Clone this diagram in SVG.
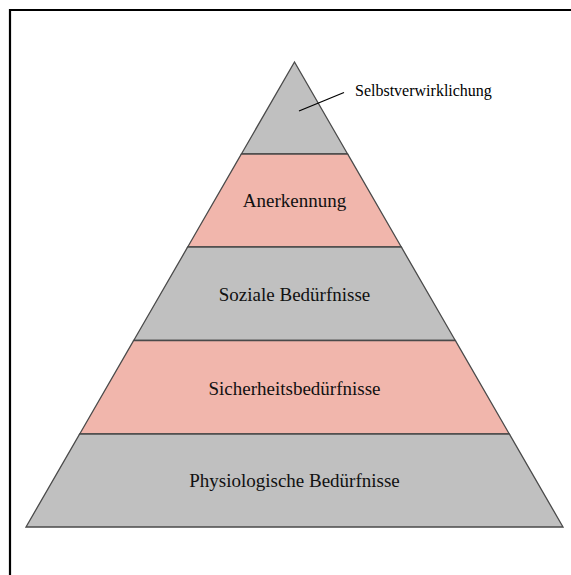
<svg xmlns="http://www.w3.org/2000/svg" width="571" height="575" viewBox="0 0 571 575">
<style>
.g{fill:#C0C0C0;stroke:#4a4a4a;stroke-width:1.3;stroke-linejoin:miter}
.p{fill:#F1B6AC;stroke:#4a4a4a;stroke-width:1.3;stroke-linejoin:miter}
.t{font-family:"Liberation Serif","Times New Roman",serif;font-size:19px;fill:#111;text-anchor:middle}
.s{font-family:"Liberation Serif","Times New Roman",serif;font-size:16px;fill:#000}
</style>
<rect width="571" height="575" fill="#fff"/>
<path d="M10,575 V10 H571" fill="none" stroke="#000" stroke-width="2.2"/>
<g id="selbstverwirklichung">
<polygon class="g" points="294.5,62 347.6,154 241.4,154"/>
<text class="s" x="355" y="96">Selbstverwirklichung</text>
</g>
<g id="anerkennung">
<polygon class="p" points="241.4,154 347.6,154 401.3,247 187.7,247"/>
<text class="t" x="294.5" y="207">Anerkennung</text>
</g>
<g id="soziale">
<polygon class="g" points="187.7,247 401.3,247 455.3,340.5 133.7,340.5"/>
<text class="t" x="294.5" y="301">Soziale Bedürfnisse</text>
</g>
<g id="sicherheit">
<polygon class="p" points="133.7,340.5 455.3,340.5 509.3,434 79.7,434"/>
<text class="t" x="294.5" y="395">Sicherheitsbedürfnisse</text>
</g>
<g id="physiologisch">
<polygon class="g" points="79.7,434 509.3,434 563,527 26,527"/>
<text class="t" x="294.5" y="487">Physiologische Bedürfnisse</text>
</g>
<g id="connectors">
<line x1="299" y1="111" x2="344" y2="92.5" stroke="#000" stroke-width="1.3"/>
</g>
</svg>
